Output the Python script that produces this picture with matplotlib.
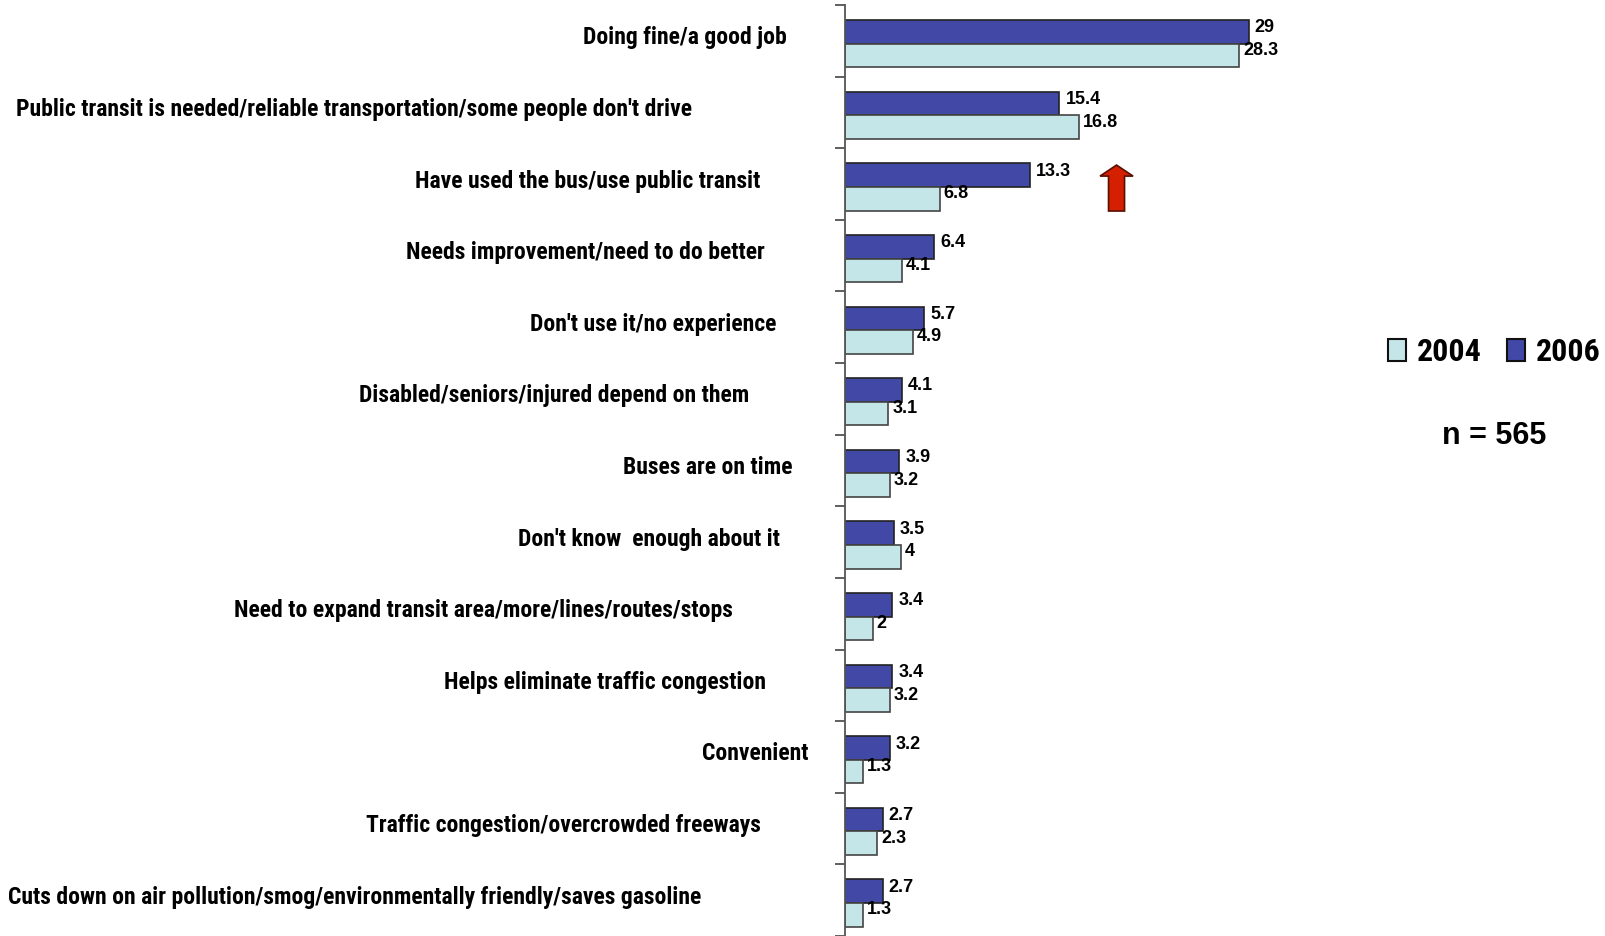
import matplotlib
matplotlib.use("Agg")
import matplotlib.pyplot as plt
from matplotlib.patches import FancyArrow, Patch
import numpy as np

categories = [
    "Doing fine/a good job",
    "Public transit is needed/reliable transportation/some people don't drive",
    "Have used the bus/use public transit",
    "Needs improvement/need to do better",
    "Don't use it/no experience",
    "Disabled/seniors/injured depend on them",
    "Buses are on time",
    "Don't know  enough about it",
    "Need to expand transit area/more/lines/routes/stops",
    "Helps eliminate traffic congestion",
    "Convenient",
    "Traffic congestion/overcrowded freeways",
    "Cuts down on air pollution/smog/environmentally friendly/saves gasoline",
]
vals_2006 = [29, 15.4, 13.3, 6.4, 5.7, 4.1, 3.9, 3.5, 3.4, 3.4, 3.2, 2.7, 2.7]
vals_2004 = [28.3, 16.8, 6.8, 4.1, 4.9, 3.1, 3.2, 4, 2, 3.2, 1.3, 2.3, 1.3]
years = ["2004", "2006"]
sample_note = "n = 565"

# gap (pixels) between the axis line and the right end of each category label
label_gap = [58, 153, 85, 80, 69, 96, 52, 65, 112, 79, 36, 84, 144]

dark_blue = "#4248A6"
light_cyan = "#C5E6E8"
cat_font = ["Roboto Condensed", "Liberation Sans", "DejaVu Sans"]
num_font = ["Liberation Sans", "DejaVu Sans"]

fig = plt.figure(figsize=(16.06, 9.36), dpi=100)
ax = fig.add_axes([845 / 1606, 0.0, 557 / 1606, 931 / 936])

y = np.arange(len(categories)) + 0.04
h = 0.33
ax.barh(y - h / 2, vals_2006, height=h, color=dark_blue, edgecolor="#222222", linewidth=1.2)
ax.barh(y + h / 2, vals_2004, height=h, color=light_cyan, edgecolor="#444444", linewidth=1.2)

for yi, v in zip(y, vals_2006):
    ax.annotate(f"{v:g}", xy=(v, yi - h / 2), xytext=(6, 4), textcoords="offset pixels",
                ha="left", va="center", fontsize=13, fontweight="bold", family=num_font)
for yi, v in zip(y, vals_2004):
    ax.annotate(f"{v:g}", xy=(v, yi + h / 2), xytext=(4, 5), textcoords="offset pixels",
                ha="left", va="center", fontsize=13, fontweight="bold", family=num_font)

for yi, lab, gap in zip(np.arange(len(categories)), categories, label_gap):
    ax.annotate(lab, xy=(0, yi), xycoords=("axes fraction", "data"),
                xytext=(-gap, 3), textcoords="offset pixels",
                ha="right", va="center", fontsize=17, fontweight="bold", family=cat_font)

# red up arrow next to the bus-usage row
ax.add_patch(FancyArrow(19.5, 2.377, 0, -0.642, width=1.15, head_width=2.37,
                        head_length=0.154, length_includes_head=True,
                        facecolor="#D42000", edgecolor="#5A1000", linewidth=1.2))

ax.set_xlim(0, 40)
ax.set_ylim(len(categories) - 0.5, -0.5)
ax.set_yticks(np.arange(len(categories) + 1) - 0.5)
ax.set_yticklabels([])
ax.tick_params(axis="y", direction="out", length=7, width=1.2, color="#444444")
ax.set_xticks([])
for side in ["top", "right", "bottom"]:
    ax.spines[side].set_visible(False)
ax.spines["left"].set_color("#555555")
ax.spines["left"].set_linewidth(1.3)

handles = [Patch(facecolor=light_cyan, edgecolor="#111111", linewidth=1.5),
           Patch(facecolor=dark_blue, edgecolor="#111111", linewidth=1.5)]
fig.legend(handles, years, loc="center", bbox_to_anchor=(0.9306, 0.624), ncol=2,
           frameon=False, handlelength=0.55, handleheight=0.7, handletextpad=0.35,
           columnspacing=0.8, prop={"family": cat_font, "weight": "bold", "size": 23})
fig.text(0.9306, 1 - 436 / 936, sample_note, ha="center", va="center",
         fontsize=22, fontweight="bold", family=num_font)

fig.savefig("out.png", dpi=100)
